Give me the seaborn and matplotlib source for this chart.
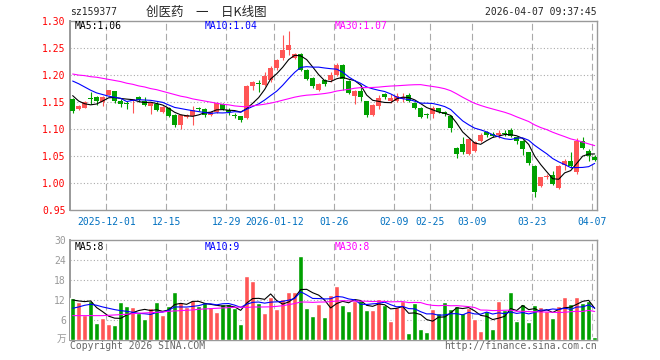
import numpy as np
import pandas as pd
import matplotlib
matplotlib.use("Agg")
import matplotlib.pyplot as plt
import seaborn as sns

# ==============================
# data (88 trading days, 2025-11-21 .. 2026-04-07)
# ==============================
open_ = [1.155, 1.138, 1.140, 1.158, 1.160, 1.150, 1.164, 1.170, 1.152, 1.148,
         1.153, 1.159, 1.153, 1.143, 1.147, 1.132, 1.139, 1.127, 1.107, 1.123,
         1.124, 1.138, 1.138, 1.127, 1.132, 1.147, 1.136, 1.127, 1.124, 1.121,
         1.180, 1.185, 1.182, 1.190, 1.213, 1.231, 1.247, 1.232, 1.239, 1.209,
         1.194, 1.173, 1.190, 1.190, 1.200, 1.218, 1.189, 1.162, 1.170, 1.152,
         1.127, 1.143, 1.165, 1.153, 1.153, 1.155, 1.164, 1.148, 1.139, 1.127,
         1.128, 1.139, 1.131, 1.124, 1.065, 1.072, 1.055, 1.060, 1.079, 1.094,
         1.092, 1.089, 1.093, 1.099, 1.086, 1.079, 1.057, 1.032, 0.995, 1.012,
         1.015, 0.992, 1.034, 1.042, 1.020, 1.078, 1.060, 1.049]
high = [1.157, 1.145, 1.152, 1.169, 1.162, 1.161, 1.173, 1.171, 1.155, 1.152,
        1.156, 1.161, 1.160, 1.151, 1.150, 1.143, 1.141, 1.128, 1.128, 1.128,
        1.142, 1.141, 1.139, 1.133, 1.150, 1.149, 1.139, 1.129, 1.125, 1.181,
        1.189, 1.190, 1.206, 1.216, 1.230, 1.275, 1.282, 1.241, 1.241, 1.211,
        1.197, 1.186, 1.193, 1.205, 1.222, 1.220, 1.191, 1.172, 1.182, 1.153,
        1.146, 1.164, 1.167, 1.165, 1.166, 1.166, 1.166, 1.151, 1.141, 1.130,
        1.142, 1.140, 1.133, 1.126, 1.067, 1.085, 1.083, 1.078, 1.093, 1.096,
        1.095, 1.098, 1.098, 1.102, 1.088, 1.080, 1.058, 1.033, 1.012, 1.018,
        1.023, 1.034, 1.045, 1.057, 1.083, 1.085, 1.063, 1.052]
low = [1.129, 1.135, 1.139, 1.147, 1.144, 1.143, 1.163, 1.149, 1.141, 1.138,
       1.130, 1.151, 1.142, 1.128, 1.133, 1.130, 1.122, 1.104, 1.100, 1.120,
       1.107, 1.134, 1.123, 1.125, 1.130, 1.135, 1.126, 1.121, 1.113, 1.119,
       1.172, 1.168, 1.180, 1.188, 1.210, 1.228, 1.237, 1.230, 1.207, 1.190,
       1.176, 1.170, 1.179, 1.188, 1.198, 1.173, 1.165, 1.147, 1.152, 1.123,
       1.125, 1.137, 1.155, 1.148, 1.150, 1.150, 1.151, 1.137, 1.120, 1.121,
       1.120, 1.129, 1.125, 1.094, 1.046, 1.054, 1.052, 1.058, 1.077, 1.086,
       1.085, 1.083, 1.087, 1.086, 1.073, 1.053, 1.033, 0.975, 0.993, 1.008,
       0.996, 0.990, 1.025, 1.029, 1.017, 1.064, 1.042, 1.041]
close = [1.133, 1.142, 1.150, 1.155, 1.153, 1.160, 1.172, 1.153, 1.146, 1.147,
         1.155, 1.154, 1.144, 1.149, 1.135, 1.141, 1.124, 1.107, 1.126, 1.126,
         1.136, 1.137, 1.127, 1.131, 1.148, 1.138, 1.131, 1.124, 1.117, 1.180,
         1.187, 1.184, 1.199, 1.214, 1.228, 1.247, 1.255, 1.239, 1.209, 1.193,
         1.179, 1.184, 1.183, 1.201, 1.219, 1.192, 1.167, 1.170, 1.159, 1.127,
         1.144, 1.157, 1.160, 1.157, 1.162, 1.160, 1.153, 1.139, 1.122, 1.126,
         1.139, 1.132, 1.128, 1.102, 1.055, 1.057, 1.081, 1.077, 1.090, 1.089,
         1.087, 1.093, 1.092, 1.088, 1.079, 1.063, 1.037, 0.983, 1.011, 1.013,
         0.998, 1.032, 1.042, 1.032, 1.079, 1.066, 1.051, 1.043]
# volume in 万手
volume = [12.7, 11.6, 7.6, 11.8, 5.3, 6.6, 4.9, 4.6, 11.5, 10.3,
          10.0, 8.2, 6.4, 9.7, 11.5, 7.6, 10.3, 14.5, 11.5, 10.0,
          12.1, 10.3, 11.5, 10.0, 8.5, 10.9, 10.9, 9.7, 4.9, 19.3,
          17.8, 11.2, 8.2, 13.0, 9.4, 12.4, 14.5, 14.5, 25.3, 9.7,
          7.3, 10.9, 7.0, 13.6, 16.3, 10.6, 8.8, 11.8, 12.1, 9.1,
          9.1, 12.4, 10.6, 5.9, 10.0, 11.8, 2.2, 11.2, 3.4, 2.5,
          9.4, 8.2, 11.5, 9.4, 10.3, 8.2, 9.7, 6.4, 2.8, 8.8,
          3.4, 11.8, 9.1, 14.5, 5.9, 10.9, 5.6, 10.6, 10.0, 8.8,
          6.7, 10.3, 13.0, 10.9, 13.0, 11.2, 11.8, 1.0]

# moving average values before the window is full
ma5_head = [1.162, 1.152, 1.147, 1.145]
ma10_head = [1.189, 1.184, 1.178, 1.172, 1.167, 1.164, 1.161, 1.159, 1.157]
ma30_head = [1.202, 1.200, 1.199, 1.197, 1.196, 1.194, 1.192, 1.190, 1.188, 1.185,
             1.183, 1.180, 1.178, 1.175, 1.173, 1.170, 1.167, 1.164, 1.161, 1.159,
             1.156, 1.154, 1.152, 1.150, 1.148, 1.146, 1.145, 1.143, 1.142]
vma5_head = [12.1, 11.8, 11.6, 11.8]
vma10_head = [9.6, 10.0, 10.5, 10.8, 10.5, 10.0, 9.6, 9.2, 8.9]
vma30_head = [7.4, 7.4, 7.4, 7.4, 7.4, 7.4, 7.5, 7.6, 7.7, 7.8,
              8.0, 8.1, 8.2, 8.3, 8.4, 8.5, 8.7, 8.8, 8.9, 9.0,
              9.1, 9.3, 9.4, 9.5, 9.6, 9.7, 9.8, 9.9, 10.0]

date_idx = [6, 16, 26, 34, 44, 54, 60, 67, 77, 87]
date_labels = ["2025-12-01", "12-15", "12-29", "2026-01-12", "01-26",
               "02-09", "02-25", "03-09", "03-23", "04-07"]
price_ticks = [0.95, 1.00, 1.05, 1.10, 1.15, 1.20, 1.25, 1.30]
vol_ticks = [6, 12, 18, 24, 30]

RED = "#FF5555"
GREEN = "#00A000"
GRID = "#AAAAAA"
FRAME = "#999999"


def moving_avg(values, n, head):
    s = pd.Series(values, dtype=float).rolling(n).mean()
    s.iloc[:n - 1] = head
    return s.values


df = pd.DataFrame({"i": np.arange(len(close)), "open": open_, "high": high,
                   "low": low, "close": close, "volume": volume})
df["up"] = df["close"] >= df["open"]
df["ma5"] = moving_avg(close, 5, ma5_head)
df["ma10"] = moving_avg(close, 10, ma10_head)
df["ma30"] = moving_avg(close, 30, ma30_head)
df["vma5"] = moving_avg(volume, 5, vma5_head)
df["vma10"] = moving_avg(volume, 10, vma10_head)
df["vma30"] = moving_avg(volume, 30, vma30_head)

sns.set_theme(style="white")
plt.rcParams["font.family"] = ["DejaVu Sans Mono", "Noto Sans CJK SC"]

fig = plt.figure(figsize=(6.6, 3.6), dpi=100)
ax = fig.add_axes([0.106, 0.4158, 0.7985, 0.5259])
axv = fig.add_axes([0.106, 0.0547, 0.7985, 0.278])

# ==============================
# K-line panel
# ==============================
colors = np.where(df["up"], RED, GREEN)
ax.vlines(df["i"], df["low"], df["high"], colors=colors, lw=0.8, zorder=3)
body_lo = df[["open", "close"]].min(axis=1)
body_h = (df["close"] - df["open"]).abs().clip(lower=0.0018)
ax.bar(df["i"], body_h, bottom=body_lo, width=0.78, color=colors,
       linewidth=0, zorder=4)

for col, c in [("ma5", "black"), ("ma10", "#0000FF"), ("ma30", "#FF00FF")]:
    sns.lineplot(data=df, x="i", y=col, color=c, linewidth=0.8, ax=ax, zorder=5)

# ==============================
# volume panel
# ==============================
sns.barplot(data=df, x="i", y="volume", hue="up", palette={True: RED, False: GREEN},
            dodge=False, width=0.83, saturation=1, legend=False, ax=axv, zorder=3)
for col, c in [("vma5", "black"), ("vma10", "#0000FF"), ("vma30", "#FF00FF")]:
    sns.lineplot(data=df, x="i", y=col, color=c, linewidth=0.8, ax=axv, zorder=5)

# ==============================
# axes styling
# ==============================
for a in (ax, axv):
    a.set_xlim(-0.45, 87.38)
    a.set_xlabel("")
    a.set_ylabel("")
    for s in a.spines.values():
        s.set_color(FRAME)
        s.set_linewidth(1.0)
    a.spines["left"].set_linewidth(1.4)
    for d in date_idx:
        a.axvline(d - 0.4, color=GRID, ls=(0, (6, 3)), lw=0.8, zorder=1)
    a.tick_params(length=0)

ax.set_ylim(0.95, 1.30)
for p in price_ticks[1:-1]:
    ax.axhline(p, color=GRID, ls=(0, (1, 2)), lw=0.8, zorder=1)
ax.set_yticks(price_ticks)
ax.set_yticklabels([f"{p:.2f}" for p in price_ticks], color="#FF0000", fontsize=7)
ax.tick_params(axis="y", pad=3)
ax.set_xticks([d - 0.4 for d in date_idx])
ax.set_xticklabels(date_labels, color="#0070C0", fontsize=7)
ax.tick_params(axis="x", pad=5)

axv.set_ylim(0, 30)
for v in vol_ticks[:-1]:
    axv.axhline(v, color=GRID, ls=(0, (1, 2)), lw=0.8, zorder=1)
axv.set_yticks(vol_ticks)
axv.set_yticklabels([str(v) for v in vol_ticks], color=FRAME, fontsize=7)
axv.tick_params(axis="y", pad=3)
axv.set_xticks([])

# ==============================
# texts
# ==============================
fig.text(70 / 660, 1 - 12 / 360, "sz159377", fontsize=7, va="center", ha="left")
fig.text(206 / 660, 1 - 12 / 360, "创医药\u3000一\u3000日K线图", fontsize=9,
         va="center", ha="center", family=["Noto Sans CJK SC", "DejaVu Sans"])
fig.text(597 / 660, 1 - 12 / 360, "2026-04-07 09:37:45", fontsize=7,
         va="center", ha="right")

for x, txt, c in [(75, "MA5:1.06", "black"), (205, "MA10:1.04", "#0000FF"),
                  (335, "MA30:1.07", "#FF00FF")]:
    fig.text(x / 660, 1 - 26 / 360, txt, color=c, fontsize=7, va="center")
for x, txt, c in [(75, "MA5:8", "black"), (205, "MA10:9", "#0000FF"),
                  (335, "MA30:8", "#FF00FF")]:
    fig.text(x / 660, 1 - 246.5 / 360, txt, color=c, fontsize=7, va="center")

fig.text(66 / 660, 1 - 339 / 360, "万", color=FRAME, fontsize=7, va="center",
         ha="right", family=["Noto Sans CJK SC", "DejaVu Sans"])
fig.text(70 / 660, 1 - 346 / 360, "Copyright 2026 SINA.COM", color="#666666",
         fontsize=7, va="center", ha="left")
fig.text(597 / 660, 1 - 346 / 360, "http://finance.sina.com.cn", color="#666666",
         fontsize=7, va="center", ha="right")

fig.savefig("out.png", dpi=100)
